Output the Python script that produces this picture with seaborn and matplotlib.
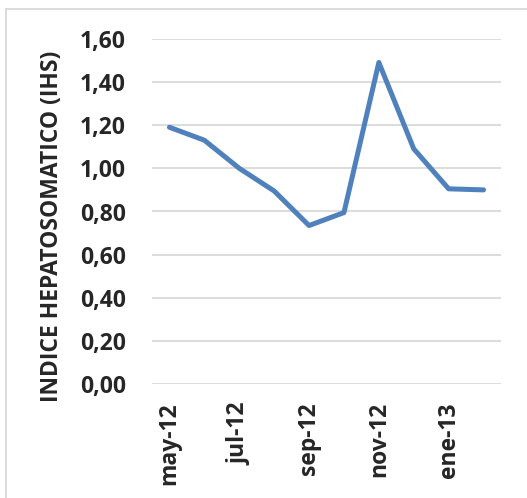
import matplotlib
matplotlib.use("Agg")
import matplotlib.pyplot as plt
import seaborn as sns
import pandas as pd
from matplotlib.patches import Rectangle

months = ["may-12", "jun-12", "jul-12", "ago-12", "sep-12", "oct-12",
          "nov-12", "dic-12", "ene-13", "feb-13"]
ihs = [1.19, 1.13, 1.00, 0.895, 0.735, 0.795, 1.49, 1.09, 0.905, 0.90]
y_ticks = [0.0, 0.2, 0.4, 0.6, 0.8, 1.0, 1.2, 1.4, 1.6]
y_label = "INDICE HEPATOSOMATICO (IHS)"

df = pd.DataFrame({"idx": range(len(months)), "mes": months, "ihs": ihs})

sns.set_theme(style="white")
plt.rcParams["font.family"] = ["Open Sans", "DejaVu Sans"]
plt.rcParams["font.weight"] = "bold"

fig = plt.figure(figsize=(5.27, 4.98), dpi=100)
ax = fig.add_axes([152/527, 1 - 384.3/498, (501-152)/527, (384.3-38.7)/498])

# outer chart border
fig.patches.append(Rectangle((6/527, -0.1), 1.2, (498-9)/498 + 0.1,
                             transform=fig.transFigure, fill=False,
                             edgecolor="#d9d9d9", linewidth=1.3))

sns.lineplot(data=df, x="idx", y="ihs", ax=ax, color="#4f81bd",
             linewidth=3.6, solid_capstyle="round", solid_joinstyle="round")

fs = 16.5
ax.set_xlim(-0.5, len(months) - 0.5)
ax.set_ylim(0, 1.6)
ax.set_yticks(y_ticks)
ax.set_yticklabels([f"{v:.2f}".replace(".", ",") for v in y_ticks],
                   fontsize=fs, fontweight="bold")
tick_pos = list(range(0, len(months), 2))
ax.set_xticks(tick_pos)
ax.set_xticklabels([months[i] for i in tick_pos], rotation=90,
                   fontsize=fs, fontweight="bold", va="top")
ax.yaxis.grid(True, color="#d9d9d9", linewidth=1.3)
ax.set_axisbelow(True)
for s in ax.spines.values():
    s.set_visible(False)
ax.tick_params(axis="y", length=0, pad=18.7)
ax.tick_params(axis="x", length=0, pad=13)
ax.set_xlabel("")
ax.set_ylabel(y_label, fontsize=fs, fontweight="bold")
ax.yaxis.set_label_coords(-0.252, 0.458)

fig.savefig("out.png", dpi=100)
